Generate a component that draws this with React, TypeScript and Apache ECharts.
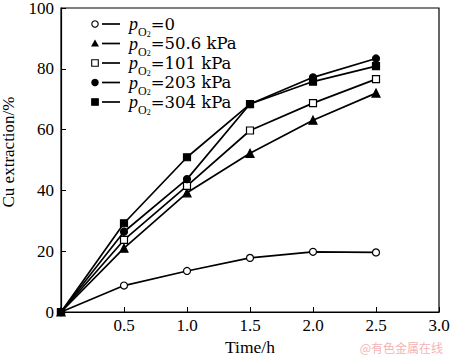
import React, { useEffect, useRef } from "react";
import * as echarts from "echarts";

const time = [0, 0.5, 1.0, 1.5, 2.0, 2.5];
const p0 = [0, 8.7, 13.5, 17.8, 19.8, 19.6];
const p50 = [0, 21.0, 39.2, 52.2, 63.1, 72.0];
const p101 = [0, 23.7, 41.5, 59.7, 68.7, 76.6];
const p203 = [0, 26.4, 43.7, 68.4, 77.2, 83.4];
const p304 = [0, 29.2, 50.9, 68.4, 75.8, 80.9];
const seriesLabels = ["=0", "=50.6 kPa", "=101 kPa", "=203 kPa", "=304 kPa"];
const xTicks = ["0.5", "1.0", "1.5", "2.0", "2.5", "3.0"];
const xTitle = "Time/h";
const yTitle = "Cu extraction/%";
const watermark = "@有色金属在线";

const FONT = "'Liberation Serif', 'Times New Roman', serif";

type Sym = { symbol: string; fill: string };
const syms: Sym[] = [
  { symbol: "circle", fill: "#fff" },
  { symbol: "triangle", fill: "#000" },
  { symbol: "rect", fill: "#fff" },
  { symbol: "circle", fill: "#000" },
  { symbol: "rect", fill: "#000" },
];

export default function App() {
  const ref = useRef<HTMLDivElement>(null);
  useEffect(() => {
    const chart = echarts.init(ref.current!, null, { renderer: "svg" });
    const all = [p0, p50, p101, p203, p304];
    const series = all.map((vals, i) => ({
      type: "line",
      data: time.map((t, j) => [t, vals[j]]),
      symbol: syms[i].symbol,
      symbolSize: syms[i].symbol === "triangle" ? 8 : 7,
      showAllSymbol: true,
      lineStyle: { color: "#000", width: 1.7 },
      itemStyle: { color: syms[i].fill, borderColor: "#000", borderWidth: 1.2 },
      z: 2 + i,
    }));

    const legendEls: any[] = [];
    const x0 = 95;
    const rowY = [24, 43.5, 63, 82.5, 102];
    seriesLabels.forEach((lab, i) => {
      const y = rowY[i];
      const s = syms[i];
      if (s.symbol === "circle") {
        legendEls.push({ type: "circle", shape: { cx: x0, cy: y, r: 3.2 }, style: { fill: s.fill, stroke: "#000", lineWidth: 1.1 } });
      } else if (s.symbol === "triangle") {
        legendEls.push({ type: "polygon", shape: { points: [[x0, y - 4], [x0 - 4, y + 3], [x0 + 4, y + 3]] }, style: { fill: "#000" } });
      } else {
        legendEls.push({ type: "rect", shape: { x: x0 - 3.3, y: y - 3.3, width: 6.6, height: 6.6 }, style: { fill: s.fill, stroke: "#000", lineWidth: 1.1 } });
      }
      legendEls.push({ type: "line", shape: { x1: x0 + 7, y1: y, x2: x0 + 25, y2: y }, style: { stroke: "#000", lineWidth: 1.7 } });
      legendEls.push({
        type: "text",
        x: 129,
        y: y,
        style: {
          text: "{p|p}{o|O}{t|2}{n|" + lab + "}",
          verticalAlign: "middle",
          rich: {
            p: { fontFamily: FONT, fontStyle: "italic", fontSize: 18, lineHeight: 28, fill: "#000" },
            o: { fontFamily: FONT, fontSize: 12, lineHeight: 12, verticalAlign: "bottom", fill: "#000" },
            t: { fontFamily: FONT, fontSize: 8, lineHeight: 4, verticalAlign: "bottom", fill: "#000" },
            n: { fontFamily: "'DejaVu Serif', serif", fontSize: 16.5, lineHeight: 28, fill: "#000" },
          },
        },
      });
    });
    legendEls.push({
      type: "text",
      right: 7,
      bottom: 3,
      style: { text: watermark, fontSize: 12, fill: "#f4b4b4", fontFamily: "'Noto Sans CJK SC', sans-serif" },
    });

    chart.setOption({
      animation: false,
      backgroundColor: "#fff",
      grid: {
        left: 61,
        right: 11,
        top: 8,
        bottom: 44,
        containLabel: false,
        outerBoundsMode: "none",
        show: true,
        borderColor: "#000",
        borderWidth: 1.2,
      },
      xAxis: {
        type: "value",
        min: 0,
        max: 3,
        interval: 0.5,
        name: xTitle,
        nameLocation: "middle",
        nameGap: 21,
        nameTextStyle: { fontFamily: FONT, fontSize: 17.5, color: "#000", lineHeight: 17 },
        axisLine: { lineStyle: { color: "#000", width: 1.2 } },
        axisTick: { inside: true, length: 5, lineStyle: { color: "#000" } },
        splitLine: { show: false },
        axisLabel: {
          fontFamily: FONT,
          fontSize: 17,
          color: "#000",
          margin: 6,
          lineHeight: 14,
          showMinLabel: false,
          formatter: (v: number) => (v === 0 ? "" : xTicks[Math.round(v / 0.5) - 1]),
        },
      },
      yAxis: {
        type: "value",
        min: 0,
        max: 100,
        interval: 20,
        name: yTitle,
        nameLocation: "middle",
        nameGap: 44,
        nameTextStyle: { fontFamily: FONT, fontSize: 17, color: "#000", padding: [0, 0, 0, 16] },
        axisLine: { lineStyle: { color: "#000", width: 1.2 } },
        axisTick: { inside: true, length: 5, lineStyle: { color: "#000" } },
        splitLine: { show: false },
        axisLabel: { fontFamily: FONT, fontSize: 17, color: "#000", margin: 7, lineHeight: 14 },
      },
      series,
      graphic: legendEls,
    });
    return () => chart.dispose();
  }, []);
  return <div ref={ref} style={{ width: 450, height: 356, position: "absolute", left: 0, top: 0 }} />;
}
